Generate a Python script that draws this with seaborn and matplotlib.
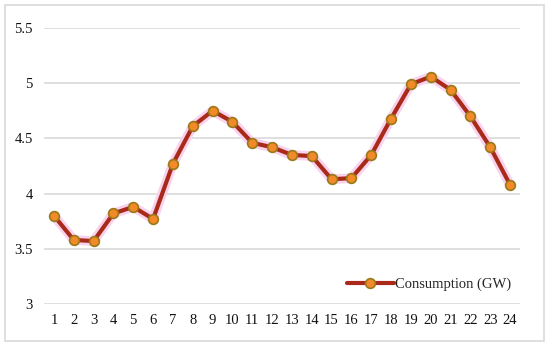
import numpy as np
import pandas as pd
import matplotlib
matplotlib.use("Agg")
import matplotlib.pyplot as plt
import seaborn as sns

# data
hours = list(range(1, 25))
consumption = [3.80, 3.58, 3.57, 3.82, 3.88, 3.77, 4.27, 4.61, 4.75, 4.65,
               4.46, 4.42, 4.35, 4.34, 4.13, 4.14, 4.35, 4.68, 4.99, 5.06,
               4.94, 4.70, 4.42, 4.08]
y_ticks = [3, 3.5, 4, 4.5, 5, 5.5]
y_labels = ["3", "3.5", "4", "4.5", "5", "5.5"]

df = pd.DataFrame({"hour": hours, "Consumption (GW)": consumption})

sns.set_style("white")
plt.rcParams['font.family'] = ['Liberation Serif', 'DejaVu Serif']

fig = plt.figure(figsize=(5.5, 3.48), dpi=100)
ax = fig.add_axes([44 / 550, 1 - 304 / 348, 476 / 550, 276 / 348])

# faint pink glow behind the line
sns.lineplot(data=df, x="hour", y="Consumption (GW)", ax=ax,
             color="#f9d3ee", linewidth=7, legend=False, zorder=2)
sns.lineplot(data=df, x="hour", y="Consumption (GW)", ax=ax,
             color="#aa2a1a", linewidth=3, marker="o", markersize=7,
             markerfacecolor="#f28a2a", markeredgecolor="#9a7a18",
             markeredgewidth=1.2, label="Consumption (GW)", zorder=3)

ax.set_xlim(0.5, 24.5)
ax.set_ylim(3, 5.5)
ax.set_xticks(hours)
ax.set_xticklabels([str(h) for h in hours])
ax.set_yticks(y_ticks)
ax.set_yticklabels(y_labels)
ax.yaxis.grid(True, color="#d9d9d9", linewidth=1.2)
ax.set_axisbelow(True)
ax.tick_params(axis="both", length=0, labelsize=10.5, colors="#111111")
ax.tick_params(axis="y", pad=8)
ax.tick_params(axis="x", pad=7)
ax.set_xlabel("")
ax.set_ylabel("")
for s in ax.spines.values():
    s.set_visible(False)

leg = ax.legend(loc="lower right", bbox_to_anchor=(1.0, 0.015), frameon=False,
                fontsize=10.5, handlelength=3.2, handletextpad=0.1,
                borderaxespad=0.2)

# light frame around the whole chart
fig.patches.append(plt.Rectangle((5 / 550, 1 - 341 / 348), 539 / 550, 336 / 348,
                                 transform=fig.transFigure, fill=False,
                                 edgecolor="#d9d9d9", linewidth=1.2))

fig.savefig("out.png", dpi=100)
